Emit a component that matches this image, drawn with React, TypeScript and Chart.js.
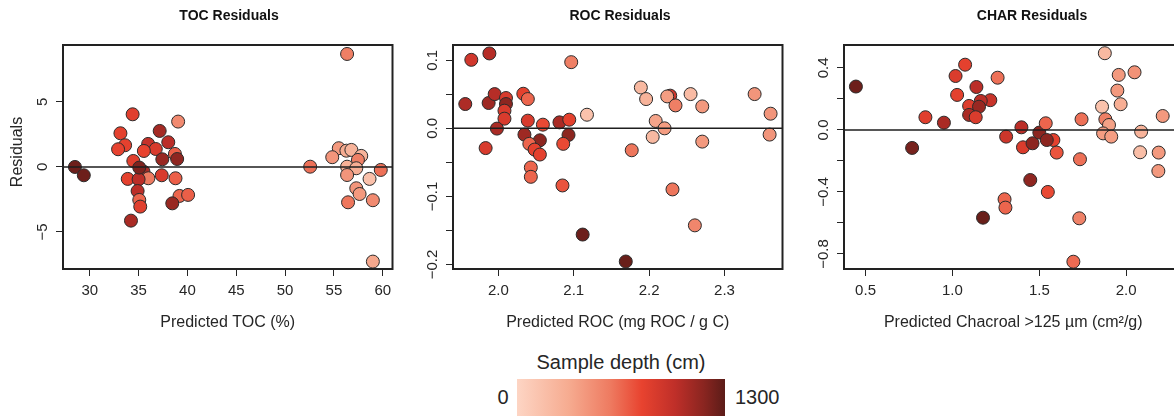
import React, { useEffect, useRef } from "react";
import { Chart, registerables } from "chart.js";

Chart.register(...registerables);
Chart.defaults.font.family = '"Liberation Sans", Arial, sans-serif';

// ---------------- DATA ----------------
// TOC residuals
const tocPredicted = [28.48, 29.39, 34.39, 39.05, 33.14, 37.16, 33.62, 32.9, 35.98, 36.76, 35.54, 38.04, 38.72, 38.95, 37.43, 34.46, 35.5, 36.0, 33.89, 35.0, 37.37, 38.78, 34.9, 35.07, 35.17, 39.19, 40.07, 38.45, 34.22, 35.07,
  56.35, 52.57, 55.5, 54.83, 56.28, 56.79, 57.8, 57.46, 56.35, 57.29, 56.35, 59.8, 58.65, 57.29, 57.63, 56.45, 58.99, 58.99];
const tocResidual = [0.0, -0.64, 4.05, 3.49, 2.59, 2.77, 1.67, 1.36, 1.77, 1.38, 1.23, 1.9, 1.0, 0.61, 0.59, 0.46, -0.36, -0.87, -0.92, -0.95, -0.64, -0.87, -1.85, -2.54, -3.05, -2.23, -2.15, -2.8, -4.13, -0.05,
  8.69, 0.02, 1.44, 0.75, 1.25, 1.31, 0.85, 0.54, 0.02, -0.1, -0.62, -0.23, -0.92, -1.64, -2.08, -2.72, -2.56, -7.28];
const tocDepth = [1250, 1250, 820, 500, 800, 1080, 800, 790, 960, 860, 780, 1000, 680, 1150, 1120, 820, 1060, 580, 800, 1000, 860, 680, 1000, 660, 820, 660, 680, 1120, 1060, 1200,
  560, 620, 420, 440, 320, 260, 260, 560, 280, 300, 440, 620, 160, 440, 420, 600, 500, 340];
const tocXTicks = [30, 35, 40, 45, 50, 55, 60];
const tocXLabels = ["30", "35", "40", "45", "50", "55", "60"];
const tocYTicks = [-5, 0, 5];
const tocYLabelValues = [-5, 0, 5];
const tocYLabels = ["\u22125", "0", "5"];

// ROC residuals
const rocPredicted = [1.964, 1.988, 2.0966, 1.956, 1.987, 1.995, 2.01, 2.01, 2.008, 2.008, 2.033, 2.039, 1.998, 1.983, 2.039, 2.059, 2.081, 2.094, 2.1175, 2.0345, 2.093, 2.055, 2.041, 2.048, 2.055, 2.086, 2.043, 2.043, 2.085, 2.1118,
  2.189, 2.196, 2.228, 2.224, 2.235, 2.255, 2.2705, 2.34, 2.3612, 2.2087, 2.2205, 2.2047, 2.2705, 2.3599, 2.1769, 2.231, 2.2607, 2.169];
const rocResidual = [0.1006, 0.11, 0.0972, 0.0357, 0.0372, 0.0503, 0.0445, 0.0357, 0.0259, 0.0142, 0.0508, 0.043, -0.0004, -0.029, 0.0113, 0.0054, 0.0088, 0.0127, 0.02, -0.0092, -0.0097, -0.0176, -0.0228, -0.0312, -0.0385, -0.0228, -0.0575, -0.0712, -0.0839, -0.156,
  0.06, 0.043, 0.048, 0.0469, 0.0337, 0.0503, 0.0322, 0.0503, 0.0215, 0.0108, 0.0, -0.0126, -0.0195, -0.0092, -0.0322, -0.0897, -0.1425, -0.1956];
const rocDepth = [900, 1020, 560, 1050, 1100, 1020, 860, 1160, 860, 860, 800, 660, 1060, 860, 860, 760, 1060, 800, 150, 1100, 1160, 1160, 660, 800, 800, 760, 660, 660, 720, 1250,
  220, 260, 900, 400, 560, 200, 420, 440, 440, 360, 400, 220, 420, 440, 600, 600, 520, 1260];
const rocXTicks = [2.0, 2.1, 2.2, 2.3];
const rocXLabels = ["2.0", "2.1", "2.2", "2.3"];
const rocYTicks = [-0.2, -0.15, -0.1, -0.05, 0, 0.05, 0.1];
const rocYLabelValues = [-0.2, -0.1, 0, 0.1];
const rocYLabels = ["\u22120.2", "\u22120.1", "0.0", "0.1"];

// CHAR residuals
const charPredicted = [0.4446, 0.768, 0.8445, 0.951, 1.073, 1.018, 1.027, 1.138, 1.26, 1.218, 1.096, 1.163, 1.153, 1.096, 1.134, 1.176, 1.3, 1.305, 1.309, 1.397, 1.406, 1.581, 1.461, 1.5, 1.543, 1.537, 1.6, 1.448, 1.549, 1.734,
  1.743, 1.73, 1.696, 1.877, 1.957, 2.048, 1.949, 1.968, 1.861, 1.88, 1.901, 1.867, 1.914, 2.086, 2.08, 2.187, 2.185, 2.21];
const charResidual = [0.28, -0.116, 0.082, 0.047, 0.421, 0.348, 0.226, 0.277, 0.337, 0.192, 0.155, 0.187, 0.15, 0.097, 0.082, -0.566, -0.447, -0.501, -0.043, 0.017, -0.112, -0.065, -0.086, -0.017, -0.065, 0.043, -0.146, -0.323, -0.4, -0.189,
  0.069, -0.57, -0.85, 0.495, 0.355, 0.372, 0.254, 0.166, 0.15, 0.069, 0.032, -0.022, -0.043, -0.011, -0.144, -0.146, -0.265, 0.09];
const charDepth = [1250, 1220, 820, 1060, 800, 850, 800, 1000, 620, 940, 840, 1000, 1120, 1060, 850, 1260, 660, 660, 920, 1000, 850, 800, 1160, 1160, 1160, 660, 720, 1150, 760, 620,
  620, 540, 640, 220, 420, 460, 420, 300, 150, 560, 380, 400, 400, 260, 180, 420, 420, 420];
const charXTicks = [0.5, 1.0, 1.5, 2.0, 2.5];
const charXLabels = ["0.5", "1.0", "1.5", "2.0", "2.5"];
const charYTicks = [-0.8, -0.6, -0.4, -0.2, 0, 0.2, 0.4];
const charYLabelValues = [-0.8, -0.4, 0, 0.4];
const charYLabels = ["\u22120.8", "\u22120.4", "0.0", "0.4"];

const depthMax = 1300;
const depthLabels = ["0", "1300"];

// ---------------- STYLE ----------------
const rampStops: [number, string][] = [
  [0, "#fdd5c4"], [0.25, "#f6ab90"], [0.45, "#ee7a60"], [0.6, "#e8432f"], [0.76, "#bf2f29"], [0.9, "#892520"], [1, "#5b1c18"],
];
function hexToRgb(h: string) {
  return [parseInt(h.slice(1, 3), 16), parseInt(h.slice(3, 5), 16), parseInt(h.slice(5, 7), 16)];
}
function depthColor(d: number) {
  const t = Math.max(0, Math.min(1, d / depthMax));
  for (let i = 1; i < rampStops.length; i++) {
    if (t <= rampStops[i][0]) {
      const [t0, c0] = rampStops[i - 1];
      const [t1, c1] = rampStops[i];
      const f = (t - t0) / (t1 - t0);
      const a = hexToRgb(c0), b = hexToRgb(c1);
      const c = a.map((v, k) => Math.round(v + (b[k] - v) * f));
      return `rgb(${c[0]},${c[1]},${c[2]})`;
    }
  }
  return rampStops[rampStops.length - 1][1];
}
const gradientCss = `linear-gradient(to right, ${rampStops.map(([t, c]) => `${c} ${t * 100}%`).join(", ")})`;

const FONT = '"Liberation Sans", Arial, sans-serif';
const INK = "#262626";
const CANVAS_H = 345;

type Panel = {
  title: string; xTitle: string; yTitle?: string;
  x: number[]; y: number[]; depth: number[];
  xMin: number; xMax: number; yMin: number; yMax: number;
  xTicks: number[]; xLabels: string[]; yTicks: number[]; yLabelValues: number[]; yLabels: string[];
  left: number; width: number; yAxisWidth: number; padRight: number; titleX: number;
};

const panels: Panel[] = [
  {
    title: "TOC Residuals", xTitle: "Predicted TOC (%)", yTitle: "Residuals",
    x: tocPredicted, y: tocResidual, depth: tocDepth,
    xMin: 27.26, xMax: 61.0, yMin: -7.85, yMax: 9.38,
    xTicks: tocXTicks, xLabels: tocXLabels, yTicks: tocYTicks, yLabelValues: tocYLabelValues, yLabels: tocYLabels,
    left: 0, width: 400, yAxisWidth: 63, padRight: 4, titleX: 229,
  },
  {
    title: "ROC Residuals", xTitle: "Predicted ROC (mg ROC / g C)",
    x: rocPredicted, y: rocResidual, depth: rocDepth,
    xMin: 1.9397, xMax: 2.377, yMin: -0.2066, yMax: 0.1224,
    xTicks: rocXTicks, xLabels: rocXLabels, yTicks: rocYTicks, yLabelValues: rocYLabelValues, yLabels: rocYLabels,
    left: 400, width: 390, yAxisWidth: 53, padRight: 3, titleX: 620,
  },
  {
    title: "CHAR Residuals", xTitle: "Predicted Chacroal >125 \u00b5m (cm\u00b2/g)",
    x: charPredicted, y: charResidual, depth: charDepth,
    xMin: 0.376, xMax: 2.324, yMin: -0.897, yMax: 0.548,
    xTicks: charXTicks, xLabels: charXLabels, yTicks: charYTicks, yLabelValues: charYLabelValues, yLabels: charYLabels,
    left: 790, width: 400, yAxisWidth: 54, padRight: 5, titleX: 1032,
  },
];

function makeDecor(p: Panel) {
  return {
    id: "residualDecor",
    afterDatasetsDraw(chart: any) {
      const { ctx, chartArea } = chart;
      const { left, right, top, bottom } = chartArea;
      const ys = chart.scales.y;
      const y0 = ys.getPixelForValue(0);
      ctx.save();
      ctx.strokeStyle = "#1e1e1e";
      ctx.lineWidth = 1.5;
      ctx.beginPath();
      ctx.moveTo(left, y0);
      ctx.lineTo(right, y0);
      ctx.stroke();
      ctx.lineWidth = 2;
      ctx.strokeStyle = "#222";
      ctx.strokeRect(left, top, right - left, bottom - top);

      ctx.fillStyle = INK;
      ctx.font = `15px ${FONT}`;
      ctx.textAlign = "center";
      ctx.textBaseline = "alphabetic";
      p.yLabelValues.forEach((v, i) => {
        const py = ys.getPixelForValue(v);
        ctx.save();
        ctx.translate(left - 16, py);
        ctx.rotate(-Math.PI / 2);
        ctx.fillText(p.yLabels[i], 0, 0);
        ctx.restore();
      });

      ctx.font = `bold 14px ${FONT}`;
      ctx.textBaseline = "middle";
      ctx.fillStyle = "#111";
      ctx.fillText(p.title, p.titleX - p.left, 16);

      if (p.yTitle) {
        ctx.save();
        ctx.font = `16px ${FONT}`;
        ctx.fillStyle = INK;
        ctx.translate(18 - p.left, 152);
        ctx.rotate(-Math.PI / 2);
        ctx.textBaseline = "middle";
        ctx.fillText(p.yTitle, 0, 0);
        ctx.restore();
      }
      ctx.restore();
    },
  };
}

function ResidualPanel({ p }: { p: Panel }) {
  const ref = useRef<HTMLCanvasElement>(null);
  useEffect(() => {
    const grid = { display: true, drawOnChartArea: false, drawTicks: true, tickLength: 7, color: INK, lineWidth: 1 };
    const chart = new Chart(ref.current as HTMLCanvasElement, {
      type: "scatter",
      data: {
        datasets: [
          {
            data: p.x.map((v, i) => ({ x: v, y: p.y[i] })),
            backgroundColor: p.depth.map(depthColor),
            borderColor: "#2b2b2b",
            borderWidth: 1,
            pointRadius: 6.5,
            pointHoverRadius: 6.5,
          },
        ],
      },
      options: {
        responsive: false,
        animation: false,
        events: [],
        layout: { padding: { left: 0, right: p.padRight, top: 45, bottom: 6 } },
        plugins: { legend: { display: false }, tooltip: { enabled: false }, title: { display: false } },
        scales: {
          x: {
            type: "linear",
            min: p.xMin,
            max: p.xMax,
            afterBuildTicks: (s: any) => { s.ticks = p.xTicks.map((v) => ({ value: v })); },
            afterFit: (s: any) => { s.height = 70; s.paddingLeft = 0; s.paddingRight = 0; },
            grid,
            border: { display: false },
            ticks: {
              autoSkip: false, maxRotation: 0, minRotation: 0, padding: 6, color: INK,
              font: { size: 15 },
              callback: (_v: any, i: number) => p.xLabels[i],
            },
            title: { display: true, text: p.xTitle, color: INK, font: { size: 16 }, padding: { top: 0, bottom: 6.4 } },
          },
          y: {
            type: "linear",
            min: p.yMin,
            max: p.yMax,
            afterBuildTicks: (s: any) => { s.ticks = p.yTicks.map((v) => ({ value: v })); },
            afterFit: (s: any) => { s.width = p.yAxisWidth; s.paddingTop = 0; s.paddingBottom = 0; },
            grid,
            border: { display: false },
            ticks: { display: false },
          },
        },
      } as any,
      plugins: [makeDecor(p)],
    });
    return () => chart.destroy();
  }, [p]);
  return (
    <canvas
      ref={ref}
      width={p.width}
      height={CANVAS_H}
      style={{ position: "absolute", left: p.left, top: 0, width: p.width, height: CANVAS_H }}
    />
  );
}

export default function App() {
  return (
    <div
      style={{
        position: "fixed", left: 0, top: 0, width: 1174, height: 416, overflow: "hidden",
        background: "#fff", fontFamily: FONT, color: INK,
      }}
    >
      {panels.map((p) => (
        <ResidualPanel key={p.title} p={p} />
      ))}
      <div style={{ position: "absolute", left: 520, top: 352, width: 202, textAlign: "center", fontSize: 20, lineHeight: "20px", whiteSpace: "nowrap" }}>
        Sample depth (cm)
      </div>
      <div style={{ position: "absolute", left: 490, top: 387, width: 26, textAlign: "center", fontSize: 20, lineHeight: "20px" }}>
        {depthLabels[0]}
      </div>
      <div style={{ position: "absolute", left: 517, top: 379, width: 208, height: 37, background: gradientCss }} />
      <div style={{ position: "absolute", left: 735, top: 387, fontSize: 20, lineHeight: "20px" }}>
        {depthLabels[1]}
      </div>
    </div>
  );
}
